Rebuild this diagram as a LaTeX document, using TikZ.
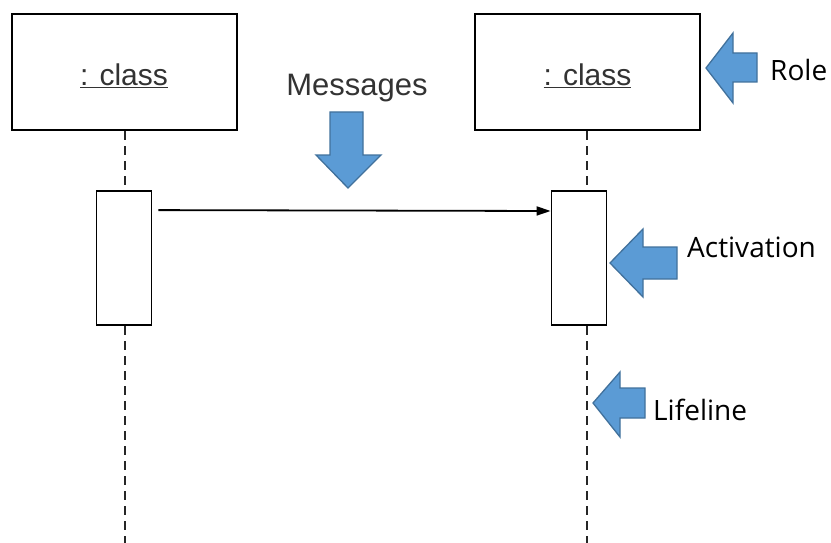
\documentclass[tikz,border=0pt]{standalone}
\usepackage{fontspec}
\setmainfont{Liberation Sans}
\newfontfamily\notefont{Open Sans}
\usetikzlibrary{arrows.meta,calc}
\definecolor{callfill}{HTML}{5B9BD5}
\definecolor{calledge}{HTML}{41719C}
\tikzset{
  rolebox/.style={draw=black,line width=2pt,fill=white,minimum width=225pt,minimum height=116pt,inner sep=0pt,font=\fontsize{30}{34}\selectfont,text=black!80},
  actbox/.style={draw=black,line width=1.8pt,fill=white,minimum width=55pt,minimum height=134pt,inner sep=0pt},
  lifeln/.style={draw=black!85,line width=1.8pt,dash pattern=on 9pt off 6pt},
  msgline/.style={draw=black,line width=1.8pt,-{Triangle[length=14pt,width=9pt]}},
  callout/.style={fill=callfill,draw=calledge,line width=1.3pt,line join=miter},
  notetext/.style={font=\notefont\fontsize{28}{32}\selectfont,text=black,inner sep=0pt,anchor=west},
  msgtext/.style={font=\fontsize{31}{36}\selectfont,text=black!80,inner sep=0pt}
}
\begin{document}
\begin{tikzpicture}[x=1pt,y=-1pt]
\useasboundingbox (0,0) rectangle (831,543);
% lifelines
\coordinate (endL) at (125,543);
\coordinate (endR) at (587,543);
\node[rolebox] (roleL) at (124,72) {\raisebox{-14pt}[0pt][0pt]{\underline{: class}}};
\node[rolebox] (roleR) at (587.5,72) {\raisebox{-14pt}[0pt][0pt]{\underline{: class}}};
\draw[lifeln] (roleL.south -| endL) -- (endL);
\draw[lifeln] (roleR.south -| endR) -- (endR);
% activations
\node[actbox] (actL) at (124,258) {};
\node[actbox] (actR) at (579,258) {};
% message
\draw[msgline] ($(actL.north east)+(6,20)$) -- (actR.north west |- 0,211);
% labels
\node[msgtext] (msg) at (357,88) {Messages};
\node[notetext] (role) at (770,70) {Role};
\node[notetext] (act) at (687,247) {Activation};
\node[notetext] (life) at (653,410) {Lifeline};
% callout arrows
\draw[callout] (330,112) -- (363,112) -- (363,155) -- (381,155) -- (348,188) -- (316,155) -- (330,155) -- cycle;
\draw[callout] (706,68) -- (733,33) -- (733,53) -- (757,53) -- (757,82) -- (733,82) -- (733,103) -- cycle;
\draw[callout] (610,263) -- (643,229) -- (643,247) -- (677,247) -- (677,279) -- (643,279) -- (643,297) -- cycle;
\draw[callout] (593,403) -- (620,372) -- (620,388) -- (645,388) -- (645,418) -- (620,418) -- (620,437) -- cycle;
\end{tikzpicture}
\end{document}
